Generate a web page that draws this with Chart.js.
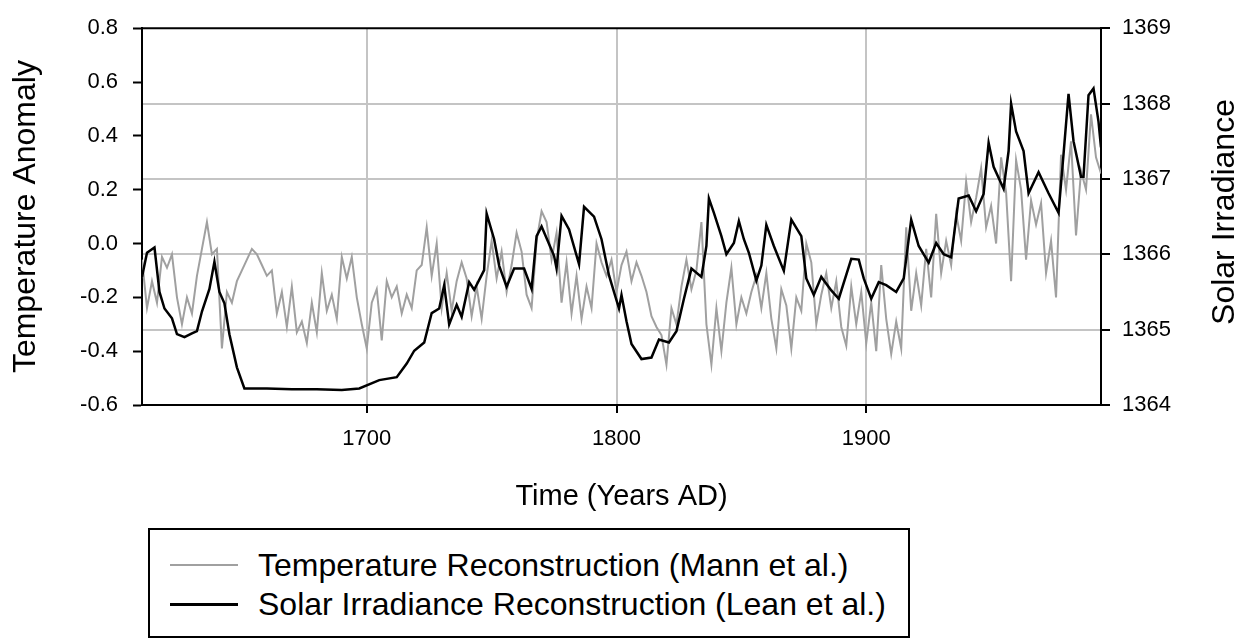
<!DOCTYPE html>
<html>
<head>
<meta charset="utf-8">
<title>Temperature vs Solar Irradiance</title>
<script src="https://cdn.jsdelivr.net/npm/chart.js@4.4.1/dist/chart.umd.min.js"></script>
<style>
  html, body { margin: 0; padding: 0; background: #fff; }
  #wrap { position: relative; width: 1242px; height: 639px; overflow: hidden; }
  #chart { position: absolute; left: 0; top: 0; }
  #legend {
    position: absolute; left: 148px; top: 528px; width: 758px; height: 106px;
    border: 2px solid #000; background: #fff;
    font-family: 'Liberation Sans', Arial, sans-serif; font-size: 32px; color: #000;
  }
  .row { position: absolute; left: 20px; height: 38px; display: flex; align-items: center; white-space: nowrap; }
  .swatch { width: 68px; height: 0; margin-right: 20px; }
</style>
</head>
<body>
<div id="wrap">
  <canvas id="chart" width="1242" height="639"></canvas>
  <div id="legend">
    <div class="row" style="top:16px"><span class="swatch" style="border-top:2px solid #a0a0a0"></span>Temperature Reconstruction (Mann et al.)</div>
    <div class="row" style="top:55px"><span class="swatch" style="border-top:3px solid #000"></span>Solar Irradiance Reconstruction (Lean et al.)</div>
  </div>
</div>
<script>
  // ---- data ----
  const TEMP_YEARS = [
    1610,1612,1614,1616,1618,1620,1622,1624,1626,1628,1630,1632,1634,1636,1638,1640,1642,1644,1646,1648,
    1650,1652,1654,1656,1658,1660,1662,1664,1666,1668,1670,1672,1674,1676,1678,1680,1682,1684,1686,1688,
    1690,1692,1694,1696,1698,1700,1702,1704,1706,1708,1710,1712,1714,1716,1718,1720,1722,1724,1726,1728,
    1730,1732,1734,1736,1738,1740,1742,1744,1746,1748,1750,1752,1754,1756,1758,1760,1762,1764,1766,1768,
    1770,1772,1774,1776,1778,1780,1782,1784,1786,1788,1790,1792,1794,1796,1798,1800,1802,1804,1806,1808,
    1810,1812,1814,1816,1818,1820,1822,1824,1826,1828,1830,1832,1834,1836,1838,1840,1842,1844,1846,1848,
    1850,1852,1854,1856,1858,1860,1862,1864,1866,1868,1870,1872,1874,1876,1878,1880,1882,1884,1886,1888,
    1890,1892,1894,1896,1898,1900,1902,1904,1906,1908,1910,1912,1914,1916,1918,1920,1922,1924,1926,1928,
    1930,1932,1934,1936,1938,1940,1942,1944,1946,1948,1950,1952,1954,1956,1958,1960,1962,1964,1966,1968,
    1970,1972,1974,1976,1978,1980,1982,1984,1986,1988,1990,1992,1994
  ];
  const TEMP = [
    -0.06,-0.24,-0.14,-0.22,-0.05,-0.09,-0.04,-0.20,-0.30,-0.20,-0.26,-0.12,-0.02,0.08,-0.04,-0.02,-0.39,-0.18,-0.22,-0.14,
    -0.10,-0.06,-0.02,-0.04,-0.08,-0.12,-0.10,-0.26,-0.18,-0.31,-0.16,-0.33,-0.29,-0.37,-0.22,-0.33,-0.11,-0.25,-0.19,-0.28,
    -0.05,-0.13,-0.05,-0.20,-0.30,-0.39,-0.22,-0.17,-0.36,-0.14,-0.20,-0.16,-0.26,-0.19,-0.24,-0.10,-0.08,0.06,-0.12,0.00,
    -0.24,-0.11,-0.25,-0.14,-0.07,-0.13,-0.27,-0.16,-0.28,-0.12,0.01,-0.13,-0.03,-0.18,-0.08,0.04,-0.03,-0.19,-0.24,0.01,
    0.12,0.08,-0.06,0.04,-0.22,-0.07,-0.26,-0.12,-0.28,-0.16,-0.24,0.00,-0.07,-0.12,-0.06,-0.18,-0.08,-0.03,-0.14,-0.07,
    -0.12,-0.18,-0.27,-0.31,-0.34,-0.45,-0.24,-0.30,-0.16,-0.06,-0.17,-0.10,0.08,-0.30,-0.45,-0.24,-0.40,-0.22,-0.09,-0.30,
    -0.20,-0.26,-0.18,-0.12,-0.24,-0.11,-0.28,-0.39,-0.17,-0.23,-0.39,-0.20,-0.25,0.00,-0.07,-0.30,-0.19,-0.11,-0.24,-0.14,
    -0.31,-0.38,-0.16,-0.30,-0.18,-0.37,-0.22,-0.40,-0.08,-0.28,-0.41,-0.29,-0.39,0.06,-0.25,-0.11,-0.23,-0.02,-0.20,0.11,
    -0.11,0.01,-0.08,0.11,0.01,0.23,0.08,0.17,0.28,0.06,0.14,0.00,0.32,0.19,-0.14,0.31,0.20,-0.06,0.16,0.07,
    0.15,-0.11,0.01,-0.20,0.33,0.20,0.38,0.03,0.27,0.20,0.48,0.32,0.26
  ];

  const SOLAR_YEARS = [
    1610,1612,1615,1617,1619,1622,1624,1627,1630,1632,1634,1637,1639,1641,1643,1645,1648,1651,1660,1670,
    1680,1690,1697,1705,1712,1716,1719,1723,1726,1729,1731,1733,1736,1738,1741,1743,1747,1748,1751,1753,
    1756,1759,1763,1766,1768,1770,1775,1776,1778,1781,1785,1787,1791,1794,1797,1801,1802,1804,1806,1810,
    1814,1817,1821,1824,1827,1830,1834,1836,1837,1839,1842,1844,1847,1849,1851,1853,1856,1858,1860,1863,
    1867,1870,1874,1876,1879,1882,1886,1889,1894,1897,1899,1902,1905,1908,1912,1915,1918,1921,1925,1928,
    1931,1934,1937,1941,1944,1947,1949,1951,1955,1957,1958,1960,1963,1965,1969,1973,1977,1979,1981,1983,
    1986,1987,1989,1991,1993,1994
  ];
  const SOLAR = [
    1365.70,1366.02,1366.09,1365.50,1365.28,1365.15,1364.94,1364.90,1364.95,1364.98,1365.24,1365.54,1365.90,1365.50,1365.35,1364.94,1364.50,1364.22,1364.22,1364.21,
    1364.21,1364.20,1364.22,1364.33,1364.37,1364.55,1364.72,1364.83,1365.22,1365.28,1365.59,1365.07,1365.33,1365.17,1365.63,1365.53,1365.79,1366.54,1366.20,1365.85,
    1365.57,1365.81,1365.81,1365.54,1366.24,1366.37,1365.98,1365.81,1366.51,1366.33,1365.87,1366.63,1366.50,1366.20,1365.72,1365.28,1365.46,1365.11,1364.81,1364.61,
    1364.63,1364.87,1364.83,1364.98,1365.41,1365.81,1365.70,1366.11,1366.74,1366.55,1366.24,1366.00,1366.15,1366.44,1366.20,1366.02,1365.65,1365.85,1366.39,1366.11,
    1365.78,1366.46,1366.24,1365.68,1365.46,1365.70,1365.52,1365.41,1365.94,1365.93,1365.68,1365.41,1365.63,1365.59,1365.50,1365.68,1366.46,1366.11,1365.89,1366.15,
    1366.00,1365.96,1366.74,1366.78,1366.57,1366.80,1367.48,1367.16,1366.87,1367.37,1368.00,1367.63,1367.37,1366.81,1367.09,1366.81,1366.55,1367.33,1368.13,1367.50,
    1367.03,1367.03,1368.11,1368.20,1367.76,1367.42
  ];

  const X_TICKS = [1700, 1800, 1900];
  const TEMP_TICKS = [-0.6, -0.4, -0.2, 0.0, 0.2, 0.4, 0.6, 0.8];
  const SOLAR_TICKS = [1364, 1365, 1366, 1367, 1368, 1369];

  const FONT = "'Liberation Sans', Arial, sans-serif";
  const GRID = '#c4c4c4';

  const pts = (xs, ys) => xs.map((x, i) => ({ x: x, y: ys[i] }));

  // top frame line + right-hand title (reads bottom-to-top like the left one)
  const frame = {
    id: 'frame',
    afterDraw(chart) {
      const a = chart.chartArea, ctx = chart.ctx;
      ctx.save();
      ctx.strokeStyle = '#000';
      ctx.lineWidth = 2;
      ctx.beginPath();
      ctx.moveTo(a.left - 1, a.top);
      ctx.lineTo(a.right + 1, a.top);
      ctx.stroke();
      ctx.translate(1225, 212);
      ctx.rotate(-Math.PI / 2);
      ctx.fillStyle = '#000';
      ctx.font = '32px ' + FONT;
      ctx.textAlign = 'center';
      ctx.textBaseline = 'middle';
      ctx.fillText('Solar Irradiance', 0, 0);
      ctx.restore();
    }
  };

  new Chart(document.getElementById('chart'), {
    type: 'line',
    data: {
      datasets: [
        {
          label: 'Solar Irradiance Reconstruction (Lean et al.)',
          data: pts(SOLAR_YEARS, SOLAR),
          yAxisID: 'y1',
          borderColor: '#000',
          borderWidth: 2.5,
          pointRadius: 0,
          tension: 0,
          order: 1
        },
        {
          label: 'Temperature Reconstruction (Mann et al.)',
          data: pts(TEMP_YEARS, TEMP),
          yAxisID: 'y',
          borderColor: '#a0a0a0',
          borderWidth: 2,
          pointRadius: 0,
          tension: 0,
          order: 2
        }
      ]
    },
    options: {
      responsive: false,
      animation: false,
      devicePixelRatio: 1,
      layout: { padding: { left: 0, right: 0, top: 22, bottom: 124 } },
      plugins: {
        legend: { display: false },
        tooltip: { enabled: false }
      },
      scales: {
        x: {
          type: 'linear', min: 1610, max: 1994,
          afterBuildTicks: (s) => { s.ticks = X_TICKS.map(v => ({ value: v })); },
          afterFit: (s) => { s.height = 110; },
          ticks: { color: '#000', font: { size: 22, family: FONT }, padding: 13, maxRotation: 0, autoSkip: false, callback: (v) => String(v) },
          grid: { color: GRID, lineWidth: 2, tickColor: '#000', tickLength: 8, tickWidth: 2 },
          border: { color: '#000', width: 2 },
          title: { display: true, text: 'Time (Years AD)', color: '#000', font: { size: 29, family: FONT }, padding: { top: 0, bottom: 1 } }
        },
        y: {
          position: 'left', min: -0.6, max: 0.8,
          afterBuildTicks: (s) => { s.ticks = TEMP_TICKS.map(v => ({ value: v })); },
          afterFit: (s) => { s.width = 142; },
          ticks: { color: '#000', font: { size: 22, family: FONT }, padding: 15, callback: (v) => v.toFixed(1) },
          grid: { drawOnChartArea: false, tickColor: '#000', tickLength: 9, tickWidth: 2 },
          border: { color: '#000', width: 2 },
          title: { display: true, text: 'Temperature Anomaly', color: '#000', font: { size: 32, family: FONT }, padding: { top: 7, bottom: 0 } }
        },
        y1: {
          position: 'right', min: 1364, max: 1369,
          afterBuildTicks: (s) => { s.ticks = SOLAR_TICKS.map(v => ({ value: v })); },
          afterFit: (s) => { s.width = 141; },
          ticks: { color: '#000', font: { size: 22, family: FONT }, padding: 12, callback: (v) => String(v) },
          grid: {
            color: (c) => (c.tick && (c.tick.value === 1364 || c.tick.value === 1369)) ? 'rgba(0,0,0,0)' : GRID,
            lineWidth: 2, tickColor: '#000', tickLength: 9, tickWidth: 2
          },
          border: { color: '#000', width: 2 }
        }
      }
    },
    plugins: [frame]
  });
</script>
</body>
</html>
